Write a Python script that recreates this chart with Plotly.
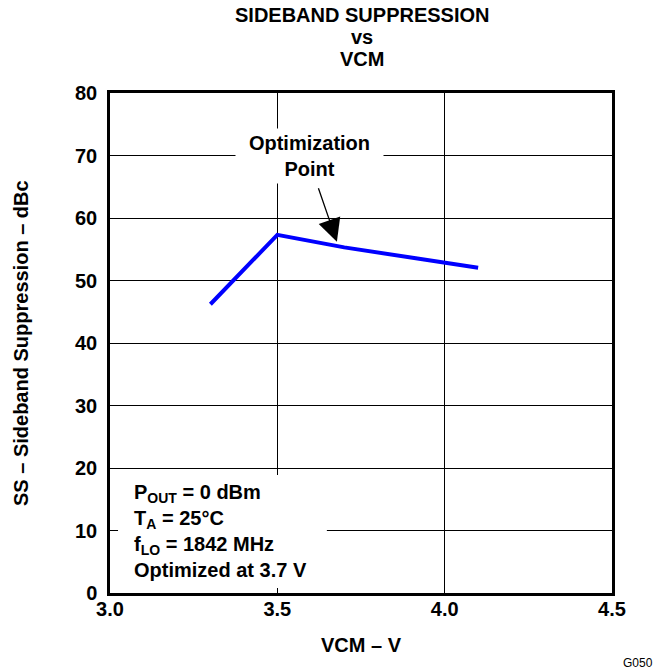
import plotly.graph_objects as go

# ── data ────────────────────────────────────────────────────────
vcm = [3.3, 3.5, 3.7, 4.1]
ss_dbc = [46.2, 57.3, 55.3, 52.05]

x_ticks = [3.0, 3.5, 4.0, 4.5]
x_tick_labels = ["3.0", "3.5", "4.0", "4.5"]
y_ticks = [0, 10, 20, 30, 40, 50, 60, 70, 80]

title_lines = ["SIDEBAND SUPPRESSION", "vs", "VCM"]
conditions = [
    "P<sub>OUT</sub> = 0 dBm",
    "T<sub>A</sub> = 25°C",
    "f<sub>LO</sub> = 1842 MHz",
    "Optimized at 3.7 V",
]

# where the arrow lands (the 3.7 V optimization point)
arrow_x, arrow_y = 3.678, 56.2

FONT = "Arial, Liberation Sans, sans-serif"

fig = go.Figure()

fig.add_trace(go.Scatter(
    x=vcm, y=ss_dbc,
    mode='lines',
    line=dict(color='#0000ff', width=4),
    showlegend=False,
    hoverinfo='skip'
))

axis_common = dict(
    showline=True, linecolor='black', linewidth=2.5, mirror=True,
    showgrid=True, gridcolor='black', gridwidth=1,
    ticks='inside', ticklen=7, tickcolor='black', tickwidth=1,
    zeroline=False,
    tickfont=dict(family=FONT, size=20, color='black', weight='bold'),
)

fig.update_xaxes(range=[3.0, 4.5], tickvals=x_ticks, ticktext=x_tick_labels,
                 ticklabelstandoff=-4, **axis_common)
fig.update_yaxes(range=[0, 80], tickvals=y_ticks, ticklabelstandoff=6,
                 **axis_common)

# ── titles ──────────────────────────────────────────────────────
for line, shift in zip(title_lines, [78, 56, 34]):
    fig.add_annotation(
        x=0.5, y=1, xref='paper', yref='paper', xshift=1, yshift=shift,
        xanchor='center', yanchor='middle',
        text=f'<b>{line}</b>', showarrow=False,
        font=dict(family=FONT, size=20, color='black')
    )

fig.add_annotation(
    x=0.5, y=0, xref='paper', yref='paper', yshift=-52,
    xanchor='center', yanchor='middle',
    text='<b>VCM – V</b>', showarrow=False,
    font=dict(family=FONT, size=20, color='black')
)
fig.add_annotation(
    x=0, y=0.5, xref='paper', yref='paper', xshift=-89,
    xanchor='center', yanchor='middle', textangle=-90,
    text='<b>SS – Sideband Suppression – dBc</b>', showarrow=False,
    font=dict(family=FONT, size=20, color='black')
)

# ── "Optimization Point" label on white, with its arrow ─────────
fig.add_annotation(
    x=3.5956, y=69.9, xref='x', yref='y',
    xanchor='center', yanchor='middle',
    text='<b>Optimization<br>Point</b>',
    showarrow=False,
    font=dict(family=FONT, size=20, color='black'),
    bgcolor='white', width=141, borderpad=3,
    align='center'
)
fig.add_annotation(
    x=arrow_x, y=arrow_y, xref='x', yref='y',
    text='', showarrow=True,
    ax=-19, ay=-55,
    arrowhead=2, arrowsize=3.5, arrowwidth=1.3, arrowcolor='black'
)

# ── conditions box, lower left ──────────────────────────────────
fig.add_shape(type='rect', xref='x', yref='y',
              x0=3.024, x1=3.648, y0=0.8, y1=18.9,
              fillcolor='white', line=dict(width=0), layer='above')
fig.add_annotation(
    x=3.0657, y=18.2, xref='x', yref='y',
    xanchor='left', yanchor='top',
    text='<b>' + '<br>'.join(conditions) + '</b>',
    showarrow=False, align='left',
    font=dict(family=FONT, size=20, color='black')
)

fig.add_annotation(
    x=1.0, y=0.0, xref='paper', yref='paper',
    xanchor='center', yanchor='middle', xshift=26, yshift=-70,
    text='G050', showarrow=False,
    font=dict(family=FONT, size=12, color='black')
)

fig.update_layout(
    width=654, height=668,
    margin=dict(l=110, r=42, t=93, b=75),
    paper_bgcolor='white', plot_bgcolor='white',
    showlegend=False
)

# drop the browser's default body margin so the figure sits at (0, 0)
fig.write_html("out.html", config={'displayModeBar': False},
               post_script="document.body.style.margin='0';")
